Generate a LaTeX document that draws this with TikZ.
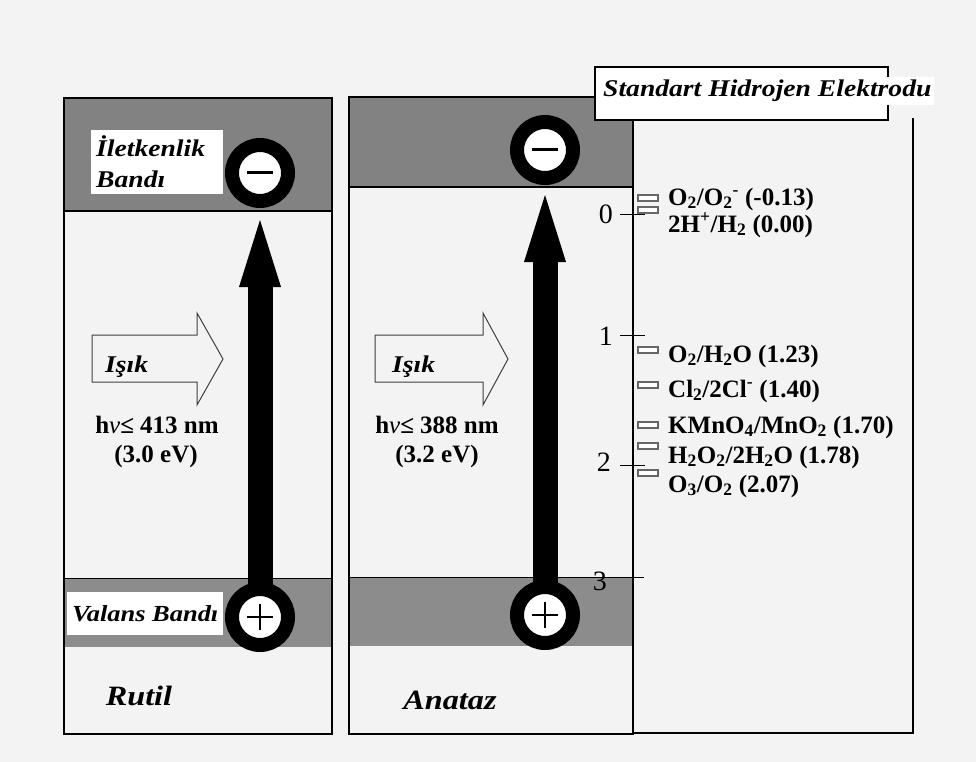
\documentclass[tikz,border=0pt]{standalone}
\usepackage{fontspec}
\setmainfont{Liberation Serif}
\newfontfamily\decofont[FakeStretch=1.15]{Liberation Serif}
\usetikzlibrary{arrows.meta}
\definecolor{paper}{HTML}{F3F3F3}
\definecolor{band}{HTML}{828282}
\definecolor{bandlow}{HTML}{8C8C8C}
\newcommand{\dn}[1]{\textsubscript{#1}}
\newcommand{\hi}[1]{\textsuperscript{#1}}

\begin{document}
\begin{tikzpicture}[x=1pt,y=-1pt,
  ion/.style={circle,draw=black,line width=14pt,fill=white,minimum size=56pt,inner sep=0pt},
  minusion/.style={ion,path picture={\draw[line width=3pt]
    ([xshift=-13pt]path picture bounding box.center) -- ([xshift=13pt]path picture bounding box.center);}},
  plusion/.style={ion,path picture={\draw[line width=1.5pt]
    ([xshift=-13pt]path picture bounding box.center) -- ([xshift=13pt]path picture bounding box.center);
    \draw[line width=1.5pt]
    ([yshift=-13pt]path picture bounding box.center) -- ([yshift=13pt]path picture bounding box.center);}},
  excite/.style={line width=25pt,-{Triangle[length=67pt,width=42pt,line width=0pt]}},
  deco/.style={font=\decofont\fontsize{24}{31}\selectfont\bfseries\itshape},
  bandlabel/.style={deco,fill=white,inner xsep=5pt,inner ysep=0pt,align=left,anchor=north west},
  redox/.style={anchor=base west,inner sep=0pt,font=\fontsize{25}{30}\selectfont\bfseries},
  energy/.style={anchor=base,inner sep=0pt,font=\fontsize{25}{30}\selectfont\bfseries},
  axislabel/.style={anchor=east,inner sep=0pt,font=\fontsize{28}{30}\selectfont},
  levelmark/.style={draw=black!60,fill=white,line width=2pt},
  lightarrow/.style={draw=black!75,line width=1pt,fill=paper,line join=miter}]
\fill[paper] (0,0) rectangle (976,762);
\useasboundingbox (0,0) rectangle (976,762);
% Rutil
\fill[band] (64,98) rectangle (332,211);
\fill[bandlow] (64,578) rectangle (332,647);
\draw[line width=1.5pt] (64,98) rectangle (332,734);
\draw[line width=1.5pt] (64,211) -- (332,211);
\draw[line width=1pt] (64,578) -- (332,578);
% Anataz
\fill[band] (349,97) rectangle (633,187);
\fill[bandlow] (349,577) rectangle (633,646);
\draw[line width=1.5pt] (349,97) rectangle (633,734);
\draw[line width=1.5pt] (349,187) -- (633,187);
\draw[line width=1pt] (349,577) -- (644,577);
\draw[line width=1.5pt] (633,733) -- (913,733) -- (913,118);
% energy scale
\draw[line width=1pt] (620,214) -- (645,214);
\draw[line width=1pt] (620,335) -- (645,335);
\draw[line width=1pt] (620,465) -- (645,465);
\node[axislabel] (tick0) at (613,214) {0};
\node[axislabel] (tick1) at (613,336) {1};
\node[axislabel] (tick2) at (611,462) {2};
\node[axislabel] (tick3) at (607,581) {3};
% SHE box
\draw[line width=1.2pt,fill=white] (595,67) rectangle (888,120);
\node[deco,fill=white,inner sep=3pt,anchor=west] (she) at (600,91) {Standart Hidrojen Elektrodu};
% redox levels
\draw[levelmark] (638,194.5) rectangle (658,200.5);
\draw[levelmark] (638,207) rectangle (658,213);
\draw[levelmark] (638,347) rectangle (658,353);
\draw[levelmark] (638,382) rectangle (658,388);
\draw[levelmark] (638,422) rectangle (658,428);
\draw[levelmark] (638,443) rectangle (658,449);
\draw[levelmark] (638,470) rectangle (658,476);
\node[redox] (superox) at (668,205) {O\dn{2}/O\dn{2}\hi{-} (-0.13)};
\node[redox] (hydrogen) at (668,232) {2H\hi{+}/H\dn{2} (0.00)};
\node[redox] (water) at (668,362) {O\dn{2}/H\dn{2}O (1.23)};
\node[redox] (chlorine) at (668,397) {Cl\dn{2}/2Cl\hi{-} (1.40)};
\node[redox] (permang) at (668,433) {KMnO\dn{4}/MnO\dn{2} (1.70)};
\node[redox] (peroxide) at (668,463) {H\dn{2}O\dn{2}/2H\dn{2}O (1.78)};
\node[redox] (ozone) at (668,492) {O\dn{3}/O\dn{2} (2.07)};
% light
\filldraw[lightarrow] (92,335) -- (197,335) -- (197,313) -- (223,359) -- (197,405) -- (197,382) -- (92,382) -- cycle;
\filldraw[lightarrow] (375,335) -- (483,335) -- (483,313) -- (508,359) -- (483,405) -- (483,382) -- (375,382) -- cycle;
\node[deco,anchor=base west,inner sep=0pt] (lightR) at (105,372) {Işık};
\node[deco,anchor=base west,inner sep=0pt] (lightA) at (392,372) {Işık};
\node[energy] (nuR) at (157,433) {h{\mdseries\itshape ν}≤ 413 nm};
\node[energy] (evR) at (156,462) {(3.0 eV)};
\node[energy] (nuA) at (437,433) {h{\mdseries\itshape ν}≤ 388 nm};
\node[energy] (evA) at (437,462) {(3.2 eV)};
% band labels
\node[bandlabel,text width=122pt,minimum height=64pt] (cbLabel) at (91,130) {İletkenlik\\Bandı};
\node[bandlabel,font=\decofont\fontsize{23}{26}\selectfont\bfseries\itshape,
  inner xsep=2pt,minimum width=156pt,minimum height=43pt] (vbLabel) at (67,592) {Valans Bandı};
% excitation
\coordinate (holeR) at (260,617);
\coordinate (elecR) at (260,173);
\coordinate (holeA) at (545,615);
\coordinate (elecA) at (545,150);
\draw[excite,shorten >=47pt] (holeR) -- (elecR);
\draw[excite,shorten >=45pt] (holeA) -- (elecA);
\node[minusion] (minusR) at (elecR) {};
\node[plusion] (plusR) at (holeR) {};
\node[minusion] (minusA) at (elecA) {};
\node[plusion] (plusA) at (holeA) {};
% phases
\node[deco,font=\decofont\fontsize{28}{30}\selectfont\bfseries\itshape] (rutil) at (139,696) {Rutil};
\node[deco,font=\decofont\fontsize{28}{30}\selectfont\bfseries\itshape] (anataz) at (450,700) {Anataz};
\end{tikzpicture}
\end{document}
